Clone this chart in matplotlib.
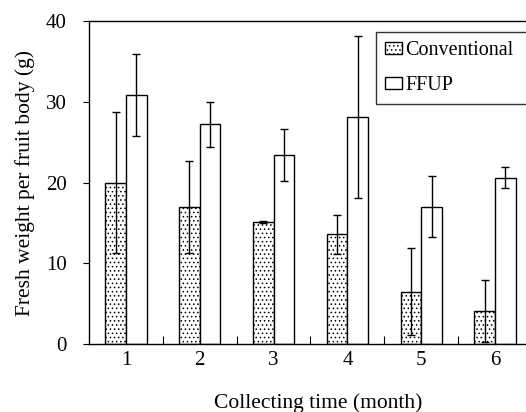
import numpy as np
import matplotlib.pyplot as plt
import matplotlib.patches as mpatches
from matplotlib.legend_handler import HandlerPatch

plt.rcParams['font.family'] = 'Liberation Serif'
plt.rcParams['hatch.linewidth'] = 0.6
plt.rcParams['axes.linewidth'] = 1.0

months = ['1', '2', '3', '4', '5', '6']
conventional = [20.0, 17.0, 15.1, 13.6, 6.5, 4.1]
conventional_err = [8.7, 5.7, 0.15, 2.4, 5.4, 3.8]
ffup = [30.8, 27.2, 23.4, 28.1, 17.0, 20.6]
ffup_err = [5.1, 2.8, 3.2, 10.0, 3.8, 1.3]


def small_square(legend, orig_handle, xdescent, ydescent, width, height, fontsize):
    # square key pushed to the right end of the handle box
    s = 0.5 * fontsize
    return mpatches.Rectangle((width - s - xdescent, (height - s) / 2 - ydescent), s, s)


fig = plt.figure(figsize=(5.26, 4.12), dpi=100)
# axes runs past the right edge of the figure, like the cropped original
ax = fig.add_axes([0.1692, 0.165, 0.8422 * 6.2 / 6.0, 0.784])

x = np.arange(1, len(months) + 1)
w = 0.28
ax.bar(x - w / 2, conventional, w, color='white', edgecolor='black', linewidth=1.0,
       hatch='....', label='Conventional')
ax.bar(x + w / 2, ffup, w, color='white', edgecolor='black', linewidth=1.0,
       label='FFUP')
ax.errorbar(x - w / 2, conventional, yerr=conventional_err, fmt='none', ecolor='black',
            elinewidth=1.0, capsize=3, capthick=1.0)
ax.errorbar(x + w / 2, ffup, yerr=ffup_err, fmt='none', ecolor='black',
            elinewidth=1.0, capsize=3, capthick=1.0)

ax.set_xlim(0.5, 6.7)
ax.set_ylim(0, 40)
ax.set_yticks([0, 10, 20, 30, 40])
ax.tick_params(axis='y', direction='out', length=4, labelsize=15, pad=12)
# boundaries between months get the tick marks, labels sit at the centres
ax.set_xticks(np.arange(1.5, 6.5, 1.0))
ax.set_xticklabels([])
ax.tick_params(axis='x', which='major', direction='in', length=6)
ax.set_xticks(x, minor=True)
ax.set_xticklabels(months, minor=True)
ax.tick_params(axis='x', which='minor', length=0, labelsize=15, pad=5)

ax.set_xlabel('Collecting time (month)', fontsize=15.5, labelpad=17)
ax.set_ylabel('Fresh weight per fruit body (g)', fontsize=15.5, labelpad=8)
ax.spines['right'].set_visible(False)

leg = ax.legend(loc='upper left', mode='expand',
                bbox_to_anchor=(0.627, 0.967, 0.4, 0.0), fontsize=14.5,
                frameon=True, fancybox=False, edgecolor='black',
                handler_map={mpatches.Rectangle: HandlerPatch(patch_func=small_square)},
                handlelength=0.85, handleheight=0.55, handletextpad=0.15,
                labelspacing=0.8, borderpad=0.45, borderaxespad=0)
leg.get_frame().set_linewidth(1.0)

plt.savefig('out.png', dpi=100)
